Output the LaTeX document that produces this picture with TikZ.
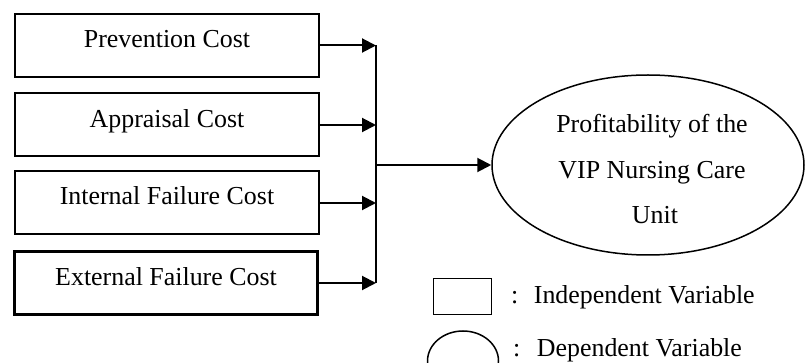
\documentclass[tikz,border=0pt]{standalone}
\usepackage{fontspec}
\setmainfont{Liberation Serif}
\usetikzlibrary{arrows.meta,shapes.geometric}
\begin{document}
\begin{tikzpicture}[x=1pt,y=-1pt,
  txt/.style={font=\fontsize{25.9}{30}\selectfont, inner sep=0pt, anchor=base},
  costbox/.style={draw, line width=2pt, minimum width=304pt, minimum height=63pt, inner sep=0pt},
  feed/.style={line width=2pt, -{Triangle[length=14pt,width=14pt]}},
  outcome/.style={draw, ellipse, line width=1.5pt, inner sep=0pt},
]
\useasboundingbox (0,0) rectangle (806,363);

% independent variables
\node[costbox] (p1) at (167,45.5) {};
\node[costbox] (p2) at (167,125) {};
\node[costbox] (p3) at (167,203) {};
\node[costbox, line width=3pt, minimum width=303pt] (p4) at (166,283) {};

\node[txt] (t1) at (167,47.5) {Prevention Cost};
\node[txt] (t2) at (167,128) {Appraisal Cost};
\node[txt] (t3) at (167,204.5) {Internal Failure Cost};
\node[txt] (t4) at (166,285.5) {External Failure Cost};

% dependent variable
\node[outcome, minimum width=312pt, minimum height=180pt] (dep) at (648,165) {};
\node[txt] (d1) at (652,133) {Profitability of the};
\node[txt] (d2) at (652,179) {VIP Nursing Care};
\node[txt] (d3) at (655,224) {Unit};

% collecting bus
\coordinate (bus) at (376,0);
\coordinate (join) at (376,165);
\draw[feed] (p1.east) -- (p1.east -| bus);
\draw[feed] (p2.east) -- (p2.east -| bus);
\draw[feed] (p3.east) -- (p3.east -| bus);
\draw[feed] (p4.east) -- (p4.east -| bus);
\draw[line width=2pt] (p1.east -| bus) -- (p4.east -| bus);
\draw[feed] (join) -- (dep.west);

% legend
\node[draw, line width=1.5pt, minimum width=58pt, minimum height=36pt, inner sep=0pt] (legbox) at (462.5,296.5) {};
\node[outcome, minimum width=71pt, minimum height=60pt] (legell) at (463,361) {};
\node[txt, anchor=base west] (indlab) at (511,304) {:\hspace{15.5pt}Independent Variable};
\node[txt, anchor=base west] (deplab) at (513,356) {:\hspace{16.5pt}Dependent Variable};
\end{tikzpicture}
\end{document}
